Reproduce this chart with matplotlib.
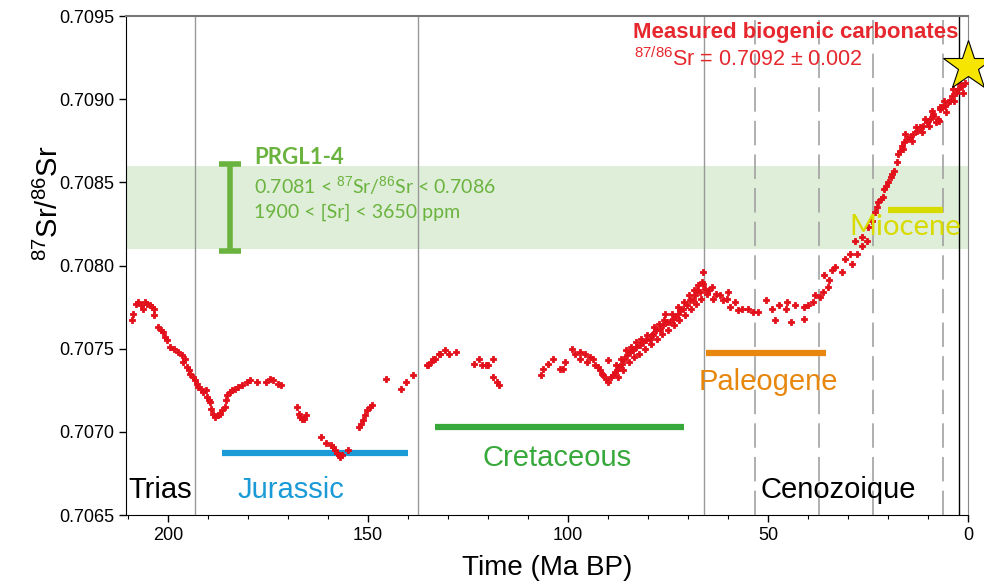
import matplotlib
matplotlib.use("Agg")
import matplotlib.pyplot as plt
from matplotlib.ticker import MultipleLocator, FormatStrFormatter

plt.rcParams['font.family'] = ['Liberation Sans', 'DejaVu Sans']
plt.rcParams['mathtext.fontset'] = 'custom'
plt.rcParams['mathtext.rm'] = 'Liberation Sans'
plt.rcParams['mathtext.it'] = 'Liberation Sans:italic'
plt.rcParams['mathtext.bf'] = 'Liberation Sans:bold'

# Sr isotope curve (age in Ma BP, 87Sr/86Sr)
age_ma = [209.1, 208.8, 208.0, 207.5, 206.8, 206.2, 205.75, 205.2, 204.5, 204.0,
          203.4, 203.4, 202.4, 201.8, 201.3, 200.8, 200.3, 199.5, 198.5, 197.4,
          196.6, 196.2, 195.8, 195.3, 194.8, 194.5, 193.8, 193.25, 192.8, 192.4,
          191.8, 191.2, 190.6, 190.2, 189.8, 189.5, 189.3, 188.8, 188.25, 187.6,
          187.0, 186.4, 185.75, 185.4, 185.2, 184.6, 184.1, 183.2, 182.4, 181.4,
          180.3, 179.5, 177.8, 175.6, 174.4, 173.7, 172.5, 171.75,
          167.7, 167.2, 167.0, 166.4, 165.9, 165.5,
          161.8, 160.6, 159.2, 158.7, 158.2, 157.8, 157.3, 157.0, 156.4, 155.1,
          152.3, 151.8, 151.2, 150.7, 150.3, 149.6, 148.9,
          145.5, 141.8, 140.5, 138.8, 135.3, 134.9, 134.2, 133.7, 133.25, 132.2,
          132.0, 130.75, 129.7, 128.0,
          123.5, 122.2, 121.6, 120.5, 119.9, 118.8, 118.8, 117.8, 117.2,
          106.8, 106.2, 104.9, 103.7, 102.0, 101.2, 100.75, 99.1, 98.25, 97.0,
          97.0, 95.75, 95.3, 94.5, 93.7, 93.25, 92.5, 92.0, 91.6, 91.2,
          90.5, 89.9, 89.9, 89.3, 88.7, 88.2, 87.8, 87.2, 86.6, 86.0,
          85.3, 84.5, 83.7, 83.0, 82.0, 81.2, 80.5, 79.5, 79.0, 78.7,
          78.0, 77.0, 76.3, 75.75, 75.2, 74.5, 73.8, 73.25, 72.6, 72.0,
          71.2, 70.3, 69.5, 68.7, 68.2, 67.8, 67.0, 66.5, 66.2, 66.2,
          65.8, 65.3, 64.7, 64.1, 63.7, 63.0, 62.0, 61.2, 60.3, 59.9,
          59.5, 58.25, 57.4, 56.5, 54.9, 53.8, 52.4, 50.5, 49.1, 48.25,
          47.2, 45.5, 45.2, 44.3, 43.25, 41.0, 41.0, 39.9, 38.8, 38.25,
          37.0, 36.2, 35.9, 34.9, 34.7, 34.1, 33.25, 31.4, 30.75, 29.5,
          29.1, 28.25, 27.8, 26.6, 26.6, 25.3, 24.9, 24.1, 23.25, 22.8,
          22.4, 21.8, 21.2, 21.0, 20.4, 19.9, 19.3, 18.9, 18.5, 17.8,
          17.4, 17.0, 16.6, 16.0, 15.3, 14.5, 13.7, 12.8, 12.0, 11.2,
          10.3, 9.5, 8.7, 8.7, 7.4, 7.2, 7.0, 7.0, 6.4, 5.75,
          5.0, 4.5, 3.7, 3.0, 2.5, 1.5, 0.75,
          88.0, 86.8, 85.5, 84.2, 83.0, 81.8, 80.2, 78.5, 77.3, 76.0,
          74.0, 72.5, 71.0, 69.8, 68.5, 67.5,
          87.5, 86.2, 84.8, 83.4, 82.2, 80.8, 79.2, 77.8, 76.5, 75.0,
          73.5, 72.2, 70.8, 69.2, 68.0, 66.8,
          15.8, 13.0, 10.8, 9.0, 6.0, 4.0, 2.0,
          16.2, 14.0, 11.5, 9.8, 8.0, 5.5, 3.5, 1.2]
sr_ratio = [0.70767, 0.70771, 0.70777, 0.70778, 0.70776, 0.70774, 0.70778, 0.70777, 0.70776, 0.70775,
            0.70774, 0.70770, 0.70763, 0.70761, 0.70760, 0.70757, 0.70755, 0.70751, 0.70750, 0.70748,
            0.70746, 0.70742, 0.70744, 0.70739, 0.70737, 0.70735, 0.70733, 0.70731, 0.70729, 0.70727,
            0.70726, 0.70724, 0.70725, 0.70721, 0.70719, 0.70718, 0.70714, 0.70711, 0.70709, 0.70710,
            0.70711, 0.70713, 0.70715, 0.70719, 0.70722, 0.70724, 0.70725, 0.70726, 0.70727, 0.70728,
            0.70730, 0.70731, 0.70730, 0.70730, 0.70732, 0.70731, 0.70729, 0.70728,
            0.70715, 0.70711, 0.70709, 0.70708, 0.70708, 0.70710,
            0.70697, 0.70693, 0.70692, 0.70691, 0.70689, 0.70687, 0.70686, 0.70685, 0.70686, 0.70689,
            0.70703, 0.70705, 0.70707, 0.70710, 0.70713, 0.70715, 0.70716,
            0.70732, 0.70726, 0.70730, 0.70734, 0.70740, 0.70740, 0.70742, 0.70744, 0.70744, 0.70747,
            0.70747, 0.70749, 0.70747, 0.70748,
            0.70741, 0.70744, 0.70740, 0.70740, 0.70740, 0.70744, 0.70733, 0.70730, 0.70728,
            0.70734, 0.70738, 0.70741, 0.70744, 0.70738, 0.70738, 0.70742, 0.70750, 0.70747, 0.70748,
            0.70744, 0.70747, 0.70742, 0.70745, 0.70744, 0.70740, 0.70739, 0.70737, 0.70735, 0.70734,
            0.70732, 0.70730, 0.70743, 0.70733, 0.70734, 0.70736, 0.70737, 0.70739, 0.70741, 0.70744,
            0.70746, 0.70748, 0.70749, 0.70751, 0.70752, 0.70754, 0.70755, 0.70756, 0.70758, 0.70759,
            0.70761, 0.70762, 0.70764, 0.70771, 0.70766, 0.70766, 0.70768, 0.70769, 0.70771, 0.70773,
            0.70774, 0.70776, 0.70779, 0.70779, 0.70782, 0.70785, 0.70784, 0.70790, 0.70796, 0.70789,
            0.70786, 0.70783, 0.70785, 0.70787, 0.70780, 0.70783, 0.70782, 0.70779, 0.70780, 0.70784,
            0.70775, 0.70778, 0.70773, 0.70774, 0.70774, 0.70772, 0.70772, 0.70779, 0.70774, 0.70767,
            0.70776, 0.70774, 0.70778, 0.70766, 0.70776, 0.70775, 0.70768, 0.70776, 0.70778, 0.70782,
            0.70781, 0.70784, 0.70794, 0.70787, 0.70791, 0.70797, 0.70799, 0.70796, 0.70804, 0.70807,
            0.70801, 0.70815, 0.70807, 0.70812, 0.70817, 0.70815, 0.70823, 0.70827, 0.70832, 0.70835,
            0.70838, 0.70840, 0.70841, 0.70846, 0.70848, 0.70850, 0.70853, 0.70855, 0.70857, 0.70862,
            0.70867, 0.70869, 0.70872, 0.70874, 0.70876, 0.70877, 0.70879, 0.70881, 0.70883, 0.70884,
            0.70886, 0.70888, 0.70890, 0.70891, 0.70888, 0.70887, 0.70894, 0.70895, 0.70895, 0.70896,
            0.70898, 0.70899, 0.70906, 0.70904, 0.70906, 0.70908, 0.70910,
            0.70740, 0.70744, 0.70749, 0.70751, 0.70754, 0.70756, 0.70758, 0.70763, 0.70765, 0.70767,
            0.70771, 0.70775, 0.70778, 0.70782, 0.70785, 0.70788,
            0.70733, 0.70737, 0.70742, 0.70745, 0.70747, 0.70750, 0.70753, 0.70756, 0.70759, 0.70761,
            0.70764, 0.70767, 0.70770, 0.70774, 0.70777, 0.70780,
            0.70879, 0.70883, 0.70888, 0.70893, 0.70899, 0.70902, 0.70909,
            0.70870, 0.70875, 0.70880, 0.70884, 0.70886, 0.70892, 0.70899, 0.70904]

# stage boundaries (Ma)
solid_bounds = [193.25, 137.5, 66.0]
dashed_bounds = [53.25, 37.25, 23.75, 6.25]
black_bound = 2.25

# periods: name, start, end, bar level, text position, colour
period_names = ['Jurassic', 'Cretaceous', 'Paleogene', 'Miocene']
period_start = [186.5, 133.25, 65.5, 20.0]
period_end = [140.0, 71.0, 35.5, 6.25]
period_bar_y = [0.706873, 0.70703, 0.707474, 0.708334]
period_text_x = [169.25, 102.75, 50.0, 15.75]
period_text_y = [0.70665, 0.70684, 0.70730, 0.70823]
period_colors = ['#1a9bd7', '#37a93b', '#e8870e', '#d8db00']

# PRGL1-4 range
prgl_low = 0.7081
prgl_high = 0.7086
prgl_x = 184.5

# measured carbonates
measured_sr = 0.7092

fig = plt.figure(figsize=(9.84, 5.85), dpi=100)
ax = fig.add_axes([126/984, 70/585, (968-126)/984, (515-16)/585])

ax.axhspan(prgl_low, prgl_high, color='#dfeed8', zorder=0, lw=0)

for b in solid_bounds:
    ax.axvline(b, color='#999999', lw=1, zorder=1)
for b in dashed_bounds:
    ax.axvline(b, color='#9a9a9a', lw=1.1, dashes=(16, 6), zorder=1)
ax.axvline(black_bound, color='black', lw=1, zorder=1)

ax.scatter(age_ma, sr_ratio, marker='P', s=24, color='#e2101a', edgecolors='#e2101a',
           linewidths=0.6, zorder=3)

for name, s, e, yb, tx, ty, c in zip(period_names, period_start, period_end, period_bar_y,
                                      period_text_x, period_text_y, period_colors):
    ax.plot([s, e], [yb, yb], color=c, lw=4.5, solid_capstyle='butt', zorder=2)
    if name == 'Miocene':
        ax.text(tx, ty, name, color=c, fontsize=21, family='Lato', ha='center', va='center', zorder=4)
    else:
        ax.text(tx, ty, name, color=c, fontsize=21, ha='center', va='center', zorder=4)

ax.text(202, 0.70665, 'Trias', fontsize=21, ha='center', va='center')
ax.text(32.5, 0.70665, 'Cenozoique', fontsize=21, ha='center', va='center')

# PRGL error bar and labels
green = '#6ab33e'
ax.errorbar([prgl_x], [(prgl_low + prgl_high) / 2], yerr=[[(prgl_high - prgl_low) / 2 + 0.00001]],
            color=green, elinewidth=4, capsize=8, capthick=4, zorder=4)
ax.text(178.5, 0.70865, 'PRGL1-4', color=green, fontsize=16, fontweight='bold', family='Lato',
        ha='left', va='center')
ax.text(178.5, 0.70848, r'0.7081 < $^{87}$Sr/$^{86}$Sr < 0.7086', color=green, fontsize=14,
        family='Lato', ha='left', va='center')
ax.text(178.5, 0.70832, '1900 < [Sr] < 3650 ppm', color=green, fontsize=14, family='Lato',
        ha='left', va='center')

red = '#e6282e'
ax.text(2.5, 0.70940, 'Measured biogenic carbonates', color=red, fontsize=16, fontweight='bold',
        ha='right', va='center')
ax.text(83.5, 0.70924, r'$^{87/86}$Sr = 0.7092 ± 0.002', color=red, fontsize=15.5,
        ha='left', va='center')

ax.plot([0], [measured_sr], marker='*', ms=38, mfc='#f6e500', mec='black', mew=0.8,
        clip_on=False, zorder=10)

ax.set_xlim(210.5, 0)
ax.set_ylim(0.7065, 0.7095)
ax.xaxis.set_major_locator(MultipleLocator(50))
ax.xaxis.set_minor_locator(MultipleLocator(10))
ax.yaxis.set_major_locator(MultipleLocator(0.0005))
ax.yaxis.set_major_formatter(FormatStrFormatter('%.4f'))
ax.tick_params(axis='both', which='major', labelsize=13, direction='out', length=5, width=1)
ax.tick_params(axis='x', which='minor', direction='out', length=3, width=0.8)
ax.tick_params(top=False, right=False)

ax.spines['left'].set_color('black')
ax.spines['bottom'].set_color('black')
ax.spines['top'].set_color('#777777')
ax.spines['top'].set_linewidth(1.5)
ax.spines['right'].set_color('#888888')

ax.set_xlabel('Time (Ma BP)', fontsize=20, labelpad=8)
ax.set_ylabel(r'$^{87}$Sr/$^{86}$Sr', fontsize=21)
ax.yaxis.set_label_coords(-0.074, 0.625)

fig.savefig('out.png', dpi=100)
